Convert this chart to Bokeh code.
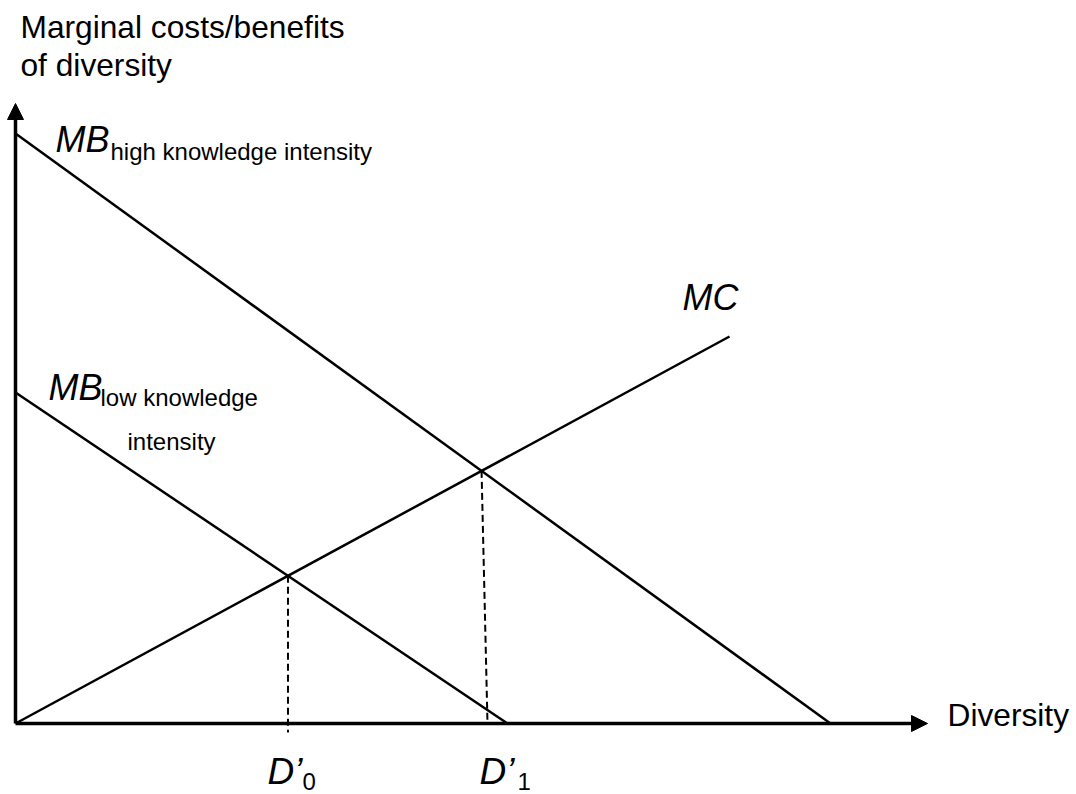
from bokeh.plotting import figure
from bokeh.models import Range1d, Arrow, NormalHead
from bokeh.core.properties import value
from bokeh.embed import file_html
from bokeh.resources import INLINE

# ---- data (diagram units) ----
mb_high_x = [0.0, 8.15]
mb_high_y = [5.90, 0.0]
mb_low_x = [0.0, 4.92]
mb_low_y = [3.31, 0.0]
mc_x = [0.0, 7.14]
mc_y = [0.0, 3.87]
x_axis_end = 9.12
y_axis_end = 6.20
d1_foot_x = 4.72
d0_foot_y = -0.09

def line_eq(xs, ys):
    m = (ys[1] - ys[0]) / (xs[1] - xs[0])
    return m, ys[0] - m * xs[0]

def intersect(a, b):
    m1, c1 = a
    m2, c2 = b
    x = (c2 - c1) / (m1 - m2)
    return x, m1 * x + c1

mc_l = line_eq(mc_x, mc_y)
d0 = intersect(mc_l, line_eq(mb_low_x, mb_low_y))
d1 = intersect(mc_l, line_eq(mb_high_x, mb_high_y))

FONT = value("Liberation Sans")

p = figure(width=1076, height=794, output_backend="svg", toolbar_location=None,
           x_range=Range1d(-0.15, 10.61), y_range=Range1d(-0.71, 7.23),
           min_border=0, outline_line_color=None)
p.axis.visible = False
p.grid.visible = False

# curves
p.line(mb_high_x, mb_high_y, line_color="black", line_width=2.5)
p.line(mb_low_x, mb_low_y, line_color="black", line_width=2.5)
p.line(mc_x, mc_y, line_color="black", line_width=2.5)

# dashed drop lines
p.line([d0[0], d0[0]], [d0[1], d0_foot_y], line_color="black", line_width=2, line_dash="7 4")
p.line([d1[0], d1_foot_x], [d1[1], 0], line_color="black", line_width=2, line_dash="7 4")

# axes with arrows
p.add_layout(Arrow(end=NormalHead(size=16, fill_color="black", line_color="black", line_width=1),
                   x_start=0, y_start=0, x_end=x_axis_end, y_end=0,
                   line_width=3.5, line_color="black"))
p.add_layout(Arrow(end=NormalHead(size=16, fill_color="black", line_color="black", line_width=1),
                   x_start=0, y_start=0, x_end=0, y_end=y_axis_end,
                   line_width=3.5, line_color="black"))

DY = 0.11

def txt(x, y, s, size, style="normal"):
    p.text(x=[x], y=[y + DY], text=[s], text_font=FONT, text_font_size=size,
           text_font_style=style, text_color="black",
           text_align="left", text_baseline="alphabetic")

txt(0.05, 6.86, "Marginal costs/benefits", "31.7px")
txt(0.05, 6.48, "of diversity", "31.7px")

txt(0.40, 5.73, "MB", "36px", "italic")
txt(0.95, 5.61, "high knowledge intensity", "24px")

txt(0.33, 3.25, "MB", "36px", "italic")
txt(0.85, 3.15, "low knowledge", "24px")
txt(1.12, 2.71, "intensity", "24px")

txt(6.67, 4.15, "MC", "36px", "italic")

txt(2.52, -0.59, "D\u2019", "37px", "italic")
txt(2.87, -0.69, "0", "24px")
txt(4.64, -0.59, "D\u2019", "37px", "italic")
txt(5.02, -0.69, "1", "24px")

txt(9.32, -0.02, "Diversity", "31.7px")

open("out.html", "w").write(file_html(p, INLINE))
